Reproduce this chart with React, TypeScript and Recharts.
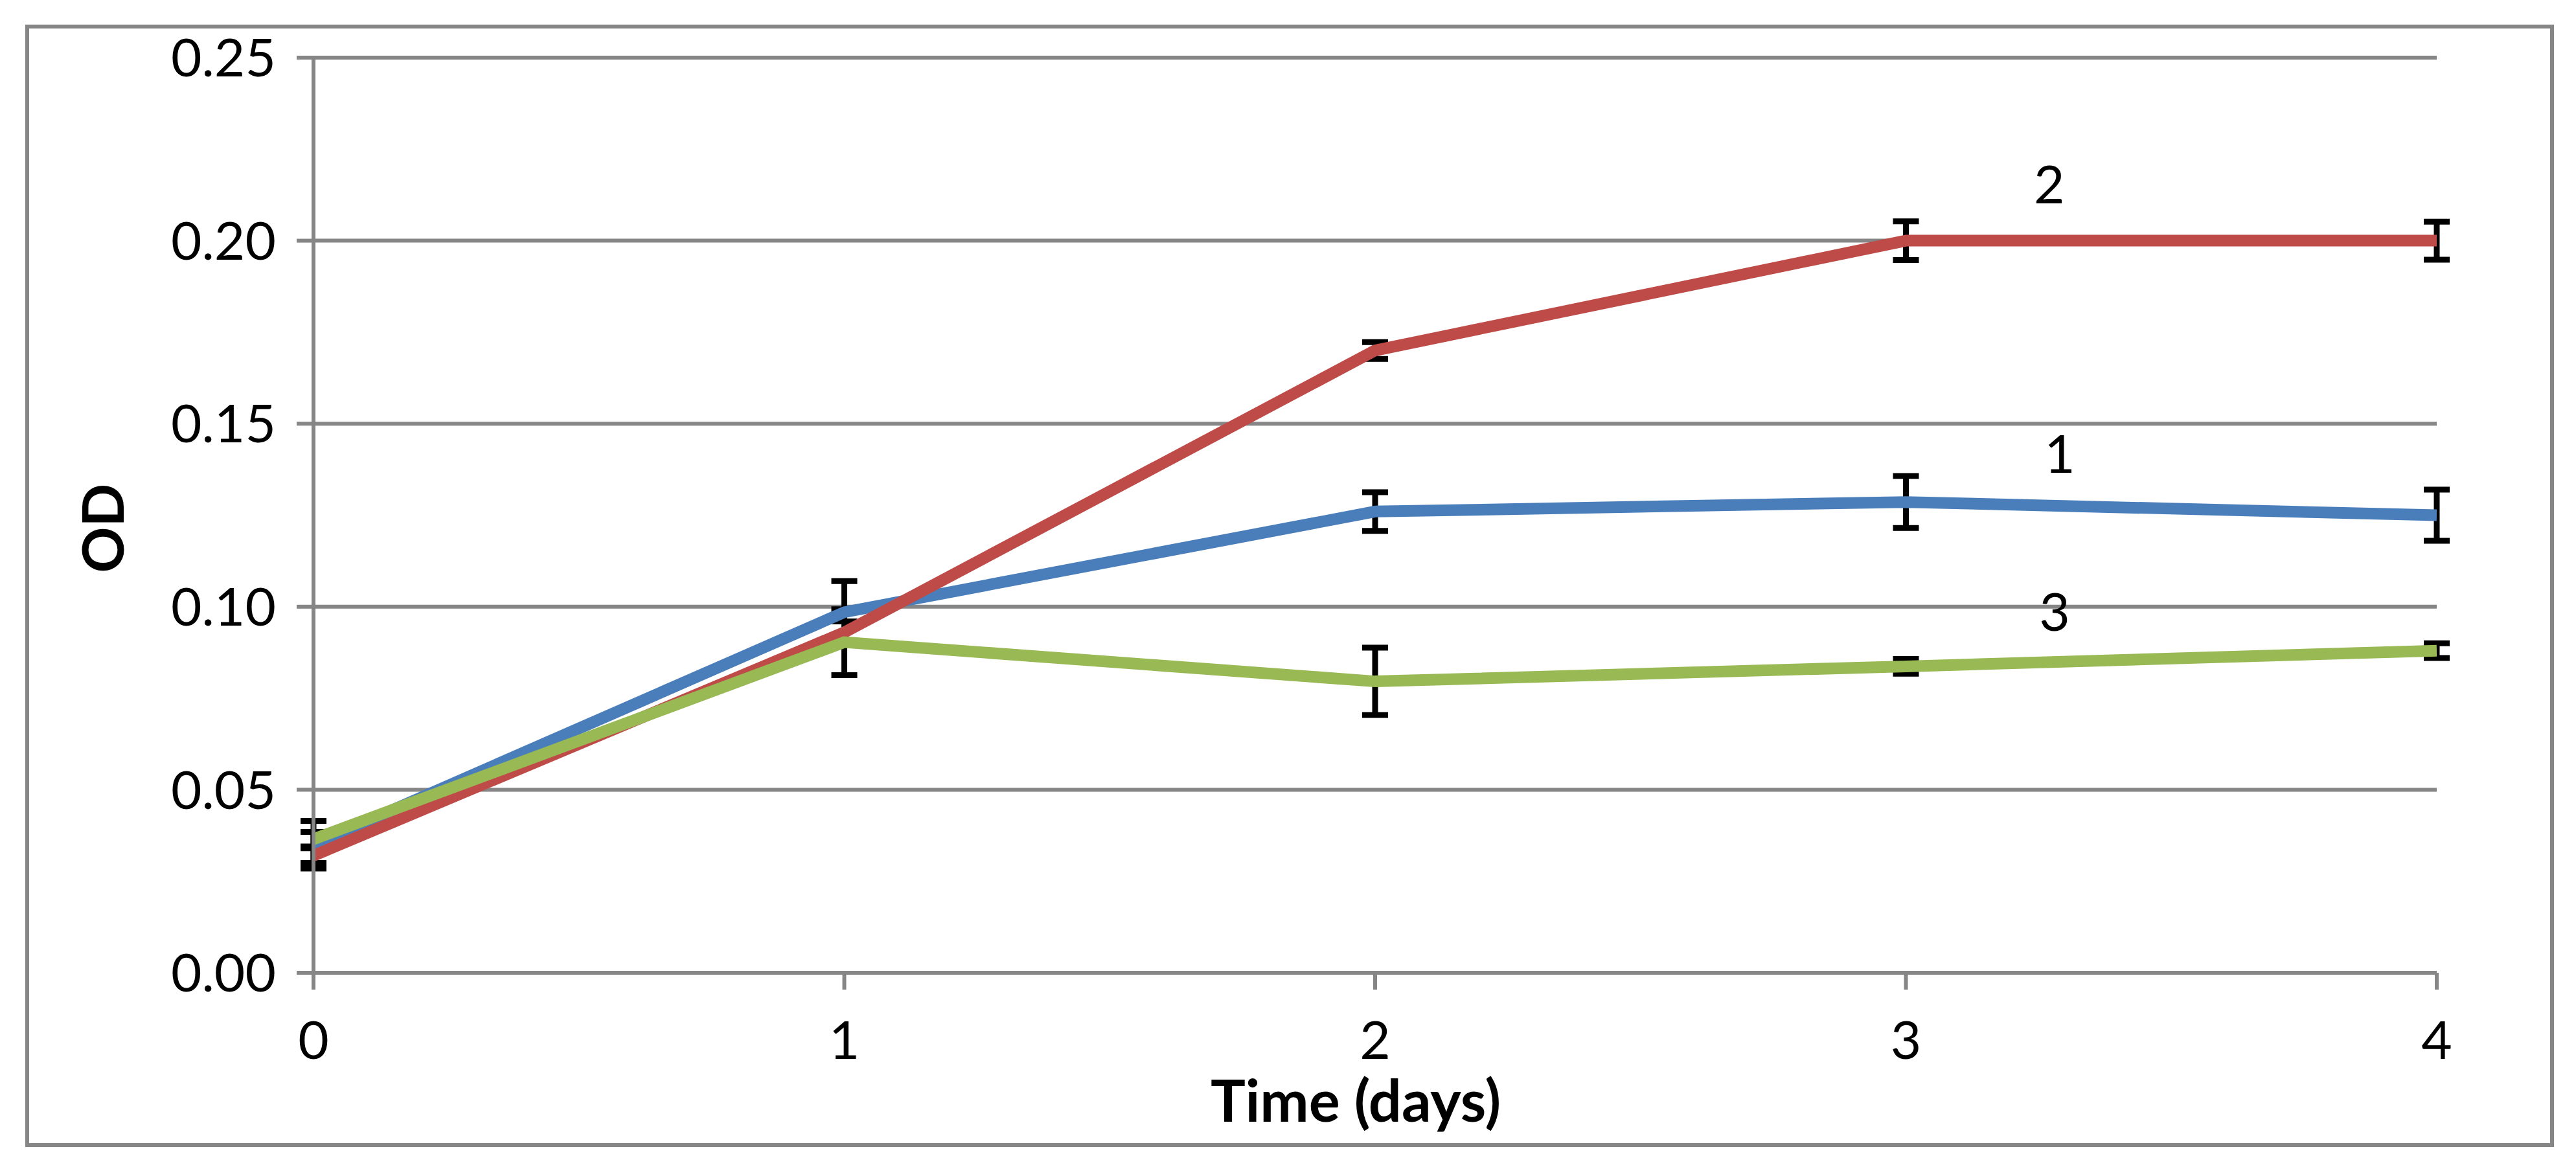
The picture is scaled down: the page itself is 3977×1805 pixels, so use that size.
import { LineChart, Line, XAxis, YAxis, CartesianGrid, ErrorBar, ReferenceDot, Label } from 'recharts'

// time points and optical density readings
const days = [0, 1, 2, 3, 4]
const od1 = [0.035, 0.0985, 0.126, 0.1286, 0.125]
const od2 = [0.032, 0.093, 0.17, 0.2, 0.2]
const od3 = [0.0365, 0.0903, 0.0796, 0.0837, 0.088]
const err1 = [0.0065, 0.0085, 0.0053, 0.0071, 0.007]
const err2 = [0.002, 0.003, 0.0023, 0.0053, 0.0052]
const err3 = [0.002, 0.009, 0.0092, 0.002, 0.002]
const yTicks = [0, 0.05, 0.1, 0.15, 0.2, 0.25]

// series tags drawn beside the lines
const tagNames = ['2', '1', '3']
const tagDays = [3.27, 3.29, 3.28]
const tagOd = [0.2153, 0.1418, 0.0985]

const W = 3977
const H = 1805
const gray = '#868686'
const font = 'Lato, Carlito, Calibri, sans-serif'
const colors = { s1: '#4A7EBB', s2: '#BE4B48', s3: '#98B954' }

export default function App() {
  const data = days.map((d, i) => ({
    day: d,
    od1: od1[i],
    od2: od2[i],
    od3: od3[i],
    e1: err1[i],
    e2: err2[i],
    e3: err3[i],
  }))

  const tags = tagNames.map((name, i) => ({ name, day: tagDays[i], od: tagOd[i] }))

  return (
    <div style={{ position: 'absolute', left: 0, top: 0, width: W, height: H, background: '#fff' }}>
      <div
        style={{
          position: 'absolute',
          left: 39,
          top: 38,
          width: 3904,
          height: 1733,
          border: `6px solid ${gray}`,
          boxSizing: 'border-box',
        }}
      />
      <LineChart
        width={W}
        height={H}
        data={data}
        margin={{ top: 89, right: 215, bottom: 0, left: 0 }}
        style={{ position: 'absolute', left: 0, top: 0 }}
      >
        <CartesianGrid vertical={false} stroke={gray} strokeWidth={6} />
        <XAxis
          dataKey="day"
          type="number"
          domain={[0, 4]}
          ticks={days}
          allowDataOverflow
          height={303}
          stroke={gray}
          strokeWidth={6}
          tickSize={26}
          tickMargin={49}
          tick={{ fill: '#000', fontSize: 82, fontFamily: font }}
        >
          <Label
            content={({ viewBox }: any) => (
              <text
                x={viewBox.x + viewBox.width / 2 - 30}
                y={viewBox.y + 230}
                textAnchor="middle"
                fontFamily={font}
                fontWeight="bold"
                fontSize={90}
                fill="#000"
              >
                Time (days)
              </text>
            )}
          />
        </XAxis>
        <YAxis
          type="number"
          domain={[0, 0.25]}
          ticks={yTicks}
          width={484}
          stroke={gray}
          strokeWidth={6}
          tickSize={26}
          tickMargin={32}
          tickFormatter={(v: number) => v.toFixed(2)}
          tick={{ fill: '#000', fontSize: 82, fontFamily: font }}
        >
          <Label
            content={({ viewBox }: any) => {
              const cx = viewBox.x + 157
              const cy = viewBox.y + viewBox.height / 2 + 20
              return (
                <text
                  x={cx}
                  y={cy}
                  transform={`rotate(-90 ${cx} ${cy})`}
                  textAnchor="middle"
                  dominantBaseline="central"
                  fontFamily={font}
                  fontWeight="bold"
                  fontSize={88}
                  fill="#000"
                >
                  OD
                </text>
              )
            }}
          />
        </YAxis>

        {/* error bars first so the coloured lines sit on top of them */}
        <Line dataKey="od1" stroke="none" dot={false} isAnimationActive={false} legendType="none">
          <ErrorBar dataKey="e1" direction="y" width={20} strokeWidth={9} stroke="#000" />
        </Line>
        <Line dataKey="od2" stroke="none" dot={false} isAnimationActive={false} legendType="none">
          <ErrorBar dataKey="e2" direction="y" width={20} strokeWidth={9} stroke="#000" />
        </Line>
        <Line dataKey="od3" stroke="none" dot={false} isAnimationActive={false} legendType="none">
          <ErrorBar dataKey="e3" direction="y" width={20} strokeWidth={9} stroke="#000" />
        </Line>

        <Line dataKey="od1" stroke={colors.s1} strokeWidth={18} dot={false} isAnimationActive={false} />
        <Line dataKey="od2" stroke={colors.s2} strokeWidth={18} dot={false} isAnimationActive={false} />
        <Line dataKey="od3" stroke={colors.s3} strokeWidth={18} dot={false} isAnimationActive={false} />

        {tags.map(t => (
          <ReferenceDot
            key={t.name}
            x={t.day}
            y={t.od}
            r={1}
            fill="none"
            stroke="none"
            label={{ value: t.name, position: 'center', fill: '#000', fontSize: 82, fontFamily: font }}
          />
        ))}
      </LineChart>
    </div>
  )
}
